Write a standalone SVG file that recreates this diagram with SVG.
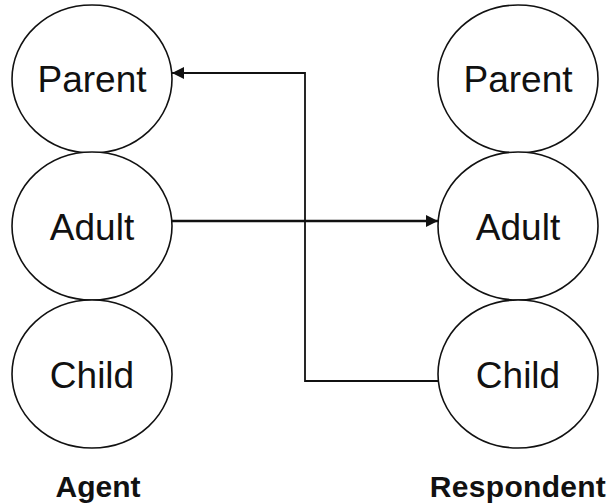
<svg xmlns="http://www.w3.org/2000/svg" width="608" height="504" viewBox="0 0 608 504">
<style>
.st{fill:#fff;stroke:#111;stroke-width:1.6}
.t{font-family:"Liberation Sans",Arial,sans-serif;font-size:37px;fill:#111;text-anchor:middle}
.lb{font-family:"Liberation Sans",Arial,sans-serif;font-size:30px;font-weight:bold;fill:#111;text-anchor:middle}
.c{fill:none;stroke:#111}
</style>
<defs>
<marker id="ah" viewBox="0 0 10 10" refX="10" refY="5" markerWidth="14" markerHeight="12" markerUnits="userSpaceOnUse" orient="auto">
<path d="M0,0 L10,5 L0,10 z" fill="#111"/>
</marker>
</defs>
<rect width="608" height="504" fill="#fff"/>
<g id="agent-parent"><ellipse class="st" cx="92" cy="79" rx="80" ry="74"/><text class="t" x="92" y="92">Parent</text></g>
<g id="agent-adult"><ellipse class="st" cx="92" cy="226" rx="80" ry="74"/><text class="t" x="92" y="240">Adult</text></g>
<g id="agent-child"><ellipse class="st" cx="92" cy="374" rx="80" ry="74"/><text class="t" x="92" y="388">Child</text></g>
<g id="resp-parent"><ellipse class="st" cx="518" cy="79" rx="80" ry="74"/><text class="t" x="518" y="92">Parent</text></g>
<g id="resp-adult"><ellipse class="st" cx="518" cy="226" rx="80" ry="74"/><text class="t" x="518" y="240">Adult</text></g>
<g id="resp-child"><ellipse class="st" cx="518" cy="374" rx="80" ry="74"/><text class="t" x="518" y="388">Child</text></g>
<g id="label-agent"><text class="lb" x="98" y="497">Agent</text></g>
<g id="label-respondent"><text class="lb" x="518" y="497" letter-spacing="0.3">Respondent</text></g>
<g id="connectors">
<path class="c" stroke-width="2.6" d="M172,221 H438" marker-end="url(#ah)"/>
<path class="c" stroke-width="1.8" d="M438,381 H305 V73 H172" marker-end="url(#ah)"/>
</g>
</svg>
